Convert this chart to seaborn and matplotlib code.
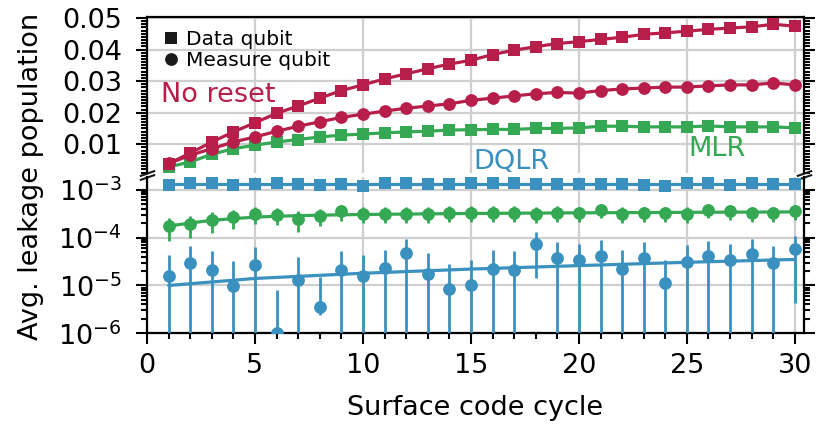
import numpy as np
import pandas as pd
import matplotlib
matplotlib.use("Agg")
import matplotlib.pyplot as plt
import seaborn as sns
from matplotlib.lines import Line2D
from matplotlib.ticker import MultipleLocator, FixedLocator, FormatStrFormatter

# ---------------- data ----------------
cycles = list(range(1, 31))

noreset_data = [0.0038, 0.0072, 0.0107, 0.0139, 0.0168, 0.0198, 0.0221, 0.0246, 0.0270, 0.0288,
                0.0307, 0.0323, 0.0339, 0.0354, 0.0366, 0.0384, 0.0398, 0.0409, 0.0419, 0.0425,
                0.0432, 0.0439, 0.0448, 0.0453, 0.0458, 0.0464, 0.0468, 0.0472, 0.0480, 0.0474]
noreset_meas = [0.0039, 0.0065, 0.0086, 0.0107, 0.0123, 0.0141, 0.0157, 0.0171, 0.0185, 0.0195,
                0.0205, 0.0214, 0.0221, 0.0228, 0.0239, 0.0246, 0.0253, 0.0260, 0.0264, 0.0262,
                0.0270, 0.0275, 0.0278, 0.0281, 0.0281, 0.0285, 0.0288, 0.0288, 0.0294, 0.0288]
mlr_data = [0.0028, 0.0044, 0.0068, 0.0086, 0.0097, 0.0107, 0.0115, 0.0123, 0.0129, 0.0132,
            0.0136, 0.0139, 0.0141, 0.0145, 0.0146, 0.0147, 0.0147, 0.0150, 0.0150, 0.0152,
            0.0157, 0.0157, 0.0155, 0.0155, 0.0155, 0.0158, 0.0155, 0.0155, 0.0155, 0.0152]

dqlr_data = [1.27e-3, 1.42e-3, 1.38e-3, 1.27e-3, 1.34e-3, 1.42e-3, 1.34e-3, 1.27e-3, 1.32e-3, 1.23e-3,
             1.38e-3, 1.38e-3, 1.34e-3, 1.32e-3, 1.36e-3, 1.38e-3, 1.42e-3, 1.34e-3, 1.32e-3, 1.34e-3,
             1.34e-3, 1.34e-3, 1.27e-3, 1.23e-3, 1.38e-3, 1.38e-3, 1.27e-3, 1.38e-3, 1.34e-3, 1.34e-3]
dqlr_data_fit_x = [1, 30]
dqlr_data_fit = [1.33e-3, 1.33e-3]

mlr_meas = [1.71e-4, 1.95e-4, 2.36e-4, 2.64e-4, 3.15e-4, 3.00e-4, 2.44e-4, 2.86e-4, 3.52e-4, 3.15e-4,
            3.15e-4, 3.15e-4, 3.15e-4, 3.35e-4, 3.35e-4, 3.35e-4, 3.35e-4, 3.15e-4, 3.35e-4, 3.26e-4,
            3.82e-4, 3.15e-4, 3.26e-4, 3.26e-4, 3.15e-4, 3.82e-4, 3.52e-4, 3.26e-4, 3.26e-4, 3.64e-4]
mlr_meas_err = [0.86e-4, 0.95e-4, 1.08e-4, 1.13e-4, 1.20e-4, 1.14e-4, 1.10e-4, 1.14e-4, 1.30e-4, 1.13e-4,
                1.12e-4, 1.12e-4, 1.12e-4, 1.18e-4, 1.18e-4, 1.18e-4, 1.18e-4, 1.12e-4, 1.18e-4, 1.15e-4,
                1.30e-4, 1.12e-4, 1.15e-4, 1.15e-4, 1.12e-4, 1.30e-4, 1.22e-4, 1.15e-4, 1.15e-4, 1.25e-4]
mlr_meas_fit_x = [1, 2, 3, 4, 5, 6, 8, 10, 15, 20, 25, 30]
mlr_meas_fit = [1.75e-4, 2.02e-4, 2.30e-4, 2.50e-4, 2.68e-4, 2.80e-4, 2.95e-4, 3.05e-4, 3.20e-4, 3.30e-4, 3.38e-4, 3.45e-4]

dqlr_meas = [1.59e-5, 2.93e-5, 2.12e-5, 9.8e-6, 2.70e-5, 1.0e-6, 1.31e-5, 3.62e-6, 2.12e-5, 1.59e-5,
             2.30e-5, 4.74e-5, 1.75e-5, 8.4e-6, 1.03e-5, 2.22e-5, 2.12e-5, 7.41e-5, 3.84e-5, 3.43e-5,
             4.22e-5, 2.22e-5, 3.84e-5, 1.15e-5, 3.16e-5, 4.16e-5, 3.43e-5, 4.58e-5, 2.93e-5, 5.74e-5]
dqlr_meas_up = [2.8e-5, 3.8e-5, 3.2e-5, 2.3e-5, 3.6e-5, 7.0e-6, 2.6e-5, 1.13e-5, 3.2e-5, 2.8e-5,
                3.3e-5, 4.6e-5, 3.0e-5, 2.0e-5, 2.3e-5, 3.3e-5, 3.2e-5, 6.0e-5, 4.1e-5, 4.0e-5,
                4.5e-5, 3.3e-5, 4.1e-5, 2.3e-5, 3.9e-5, 4.5e-5, 4.0e-5, 4.7e-5, 3.8e-5, 5.3e-5]
# lower error (nan = bar reaches below the axis)
dqlr_meas_lo = [np.nan] * 7 + [1.2e-6] + [np.nan] * 9 + [6.0e-5] + [np.nan] * 11 + [5.3e-5]
dqlr_meas_fit_x = [1, 5, 10, 15, 20, 25, 30]
dqlr_meas_fit = [1.0e-5, 1.4e-5, 1.8e-5, 2.2e-5, 2.6e-5, 3.05e-5, 3.5e-5]

legend_labels = ["Data qubit", "Measure qubit"]
top_ticks = [0.01, 0.02, 0.03, 0.04, 0.05]
x_ticks = [0, 5, 10, 15, 20, 25, 30]

RED = "#B81E4A"
GREEN = "#34A853"
BLUE = "#3A91BF"

# ---------------- style ----------------
sns.set_theme(style="ticks")
plt.rcParams["font.family"] = ["DejaVu Sans"]
for key in ["text.color", "axes.labelcolor", "xtick.color", "ytick.color", "axes.edgecolor"]:
    plt.rcParams[key] = "black"
FS = 19.5

fig = plt.figure(figsize=(8.16, 4.25), dpi=100)
gs = fig.add_gridspec(2, 1, left=0.1801, right=0.9847, top=0.9607, bottom=0.2158, hspace=0.026)
ax_t = fig.add_subplot(gs[0])
ax_b = fig.add_subplot(gs[1], sharex=ax_t)

lw = 2.3
ms_s = 8.4
ms_c = 9.2

df_top = pd.DataFrame({"cycle": cycles, "nr_d": noreset_data, "nr_m": noreset_meas, "mlr_d": mlr_data})
sns.lineplot(data=df_top, x="cycle", y="nr_d", ax=ax_t, color=RED, lw=lw, marker="s",
             markersize=ms_s, markeredgewidth=0, zorder=3)
sns.lineplot(data=df_top, x="cycle", y="nr_m", ax=ax_t, color=RED, lw=lw, marker="o",
             markersize=ms_c, markeredgewidth=0, zorder=3)
sns.lineplot(data=df_top, x="cycle", y="mlr_d", ax=ax_t, color=GREEN, lw=lw, marker="s",
             markersize=ms_s, markeredgewidth=0, zorder=2)

# bottom panel
ax_b.set_yscale("log")
sns.lineplot(x=dqlr_data_fit_x, y=dqlr_data_fit, ax=ax_b, color=BLUE, lw=lw, zorder=2)
sns.scatterplot(x=cycles, y=dqlr_data, ax=ax_b, color=BLUE, marker="s", s=ms_s ** 2,
                linewidth=0, zorder=3)

ax_b.errorbar(cycles, mlr_meas, yerr=[mlr_meas_err, mlr_meas_err], fmt="o", color=GREEN,
              ms=ms_c, mew=0, elinewidth=2.0, capsize=0, zorder=3)
sns.lineplot(x=mlr_meas_fit_x, y=mlr_meas_fit, ax=ax_b, color=GREEN, lw=lw, zorder=2)

dm = np.array(dqlr_meas)
lo = np.array(dqlr_meas_lo)
lo = np.where(np.isnan(lo), dm - 1e-12, lo)
ax_b.errorbar(cycles, dqlr_meas, yerr=[lo, dqlr_meas_up], fmt="o", color=BLUE,
              ms=ms_c, mew=0, elinewidth=2.0, capsize=0, zorder=3)
sns.lineplot(x=dqlr_meas_fit_x, y=dqlr_meas_fit, ax=ax_b, color=BLUE, lw=lw, zorder=2)

# ---------------- axes ----------------
ax_t.set_xlim(0, 30.4)
ax_t.set_ylim(0.0009, 0.0504)
ax_b.set_ylim(1e-6, 1.85e-3)

for ax in (ax_t, ax_b):
    ax.set_xlabel("")
    ax.set_ylabel("")
    ax.grid(True, which="major", color="#cfcfcf", lw=1.6, zorder=0)
    ax.set_axisbelow(True)
    for s in ax.spines.values():
        s.set_linewidth(1.6)
        s.set_color("black")
    ax.tick_params(which="both", direction="out", width=1.5, labelsize=FS,
                   left=True, right=True, labelright=False, color="black", labelcolor="black")
    ax.tick_params(which="major", length=8)
    ax.tick_params(which="minor", length=4.5)
    ax.tick_params(axis="y", which="both", pad=10)

ax_t.spines["bottom"].set_visible(False)
ax_b.spines["top"].set_visible(False)
ax_t.tick_params(axis="x", which="both", bottom=False, labelbottom=False, top=False)
ax_b.tick_params(axis="x", which="both", top=False, pad=6)

ax_t.yaxis.set_major_locator(FixedLocator(top_ticks))
ax_t.yaxis.set_major_formatter(FormatStrFormatter("%.2f"))
ax_t.yaxis.set_minor_locator(MultipleLocator(0.001))

ax_b.xaxis.set_major_locator(FixedLocator(x_ticks))
ax_b.xaxis.set_minor_locator(MultipleLocator(1))

ax_b.set_xlabel("Surface code cycle", fontsize=FS, labelpad=12)
fig.text(0.038, 0.585, "Avg. leakage population", rotation=90, fontsize=FS,
         ha="center", va="center")

# break marks
d = 0.35
kw = dict(marker=[(-1, -d), (1, d)], markersize=11, linestyle="none", color="k",
          mec="k", mew=1.5, clip_on=False)
ax_t.plot([0, 1], [0, 0], transform=ax_t.transAxes, **kw)
ax_b.plot([0, 1], [1, 1], transform=ax_b.transAxes, **kw)

# annotations
ax_t.text(0.65, 0.0256, "No reset", color=RED, fontsize=FS, ha="left", va="center")
ax_t.text(15.1, 0.0043, "DQLR", color=BLUE, fontsize=FS, ha="left", va="center")
ax_t.text(25.08, 0.0084, "MLR", color=GREEN, fontsize=FS, ha="left", va="center")

handles = [Line2D([], [], ls="none", marker="s", color="k", ms=ms_s, mew=0),
           Line2D([], [], ls="none", marker="o", color="k", ms=ms_c, mew=0)]
ax_t.legend(handles, legend_labels, loc="upper left", bbox_to_anchor=(0.01, 0.98),
            frameon=False, fontsize=14.5, handlelength=0.7, handletextpad=0.4,
            labelspacing=0.12, borderaxespad=0.3, borderpad=0.2)

fig.savefig("out.png", dpi=100)
